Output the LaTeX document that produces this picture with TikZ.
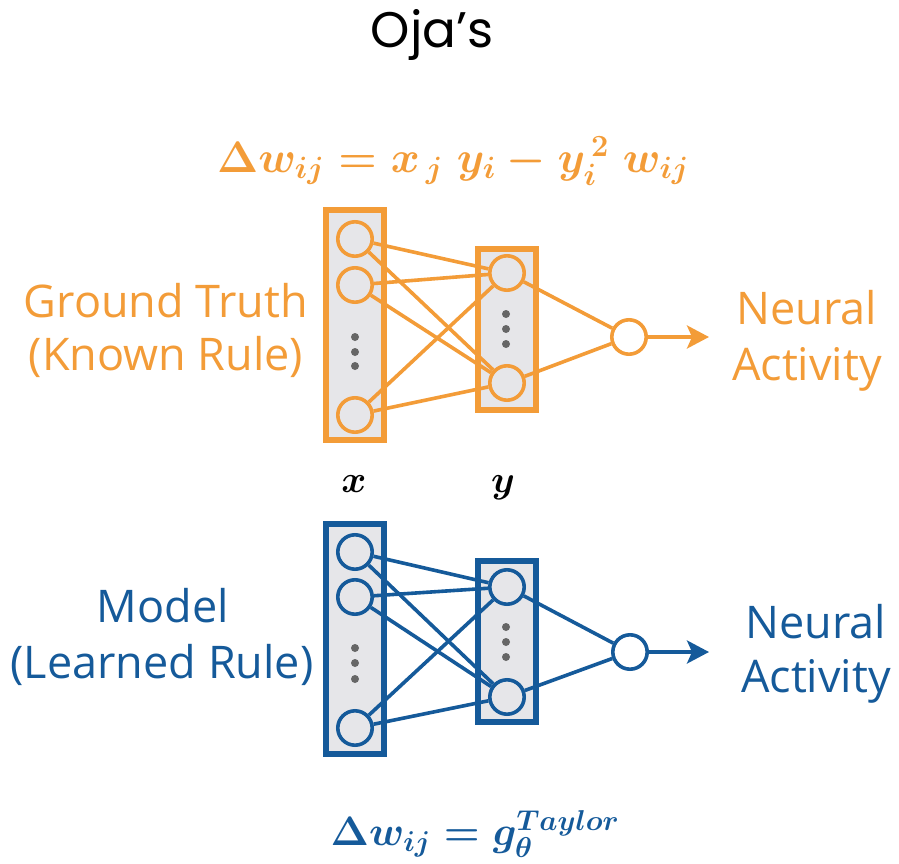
\RequirePackage{fix-cm}
\documentclass[tikz,border=0pt]{standalone}
\usepackage{fontspec}
\setmainfont{Open Sans}
\newfontfamily\titlefont{Poppins}
\usetikzlibrary{arrows.meta}
\definecolor{org}{HTML}{F39C38}
\definecolor{blu}{HTML}{155A9A}
\definecolor{boxfill}{HTML}{E6E6E9}
\definecolor{dotc}{HTML}{666666}
\newcommand{\eqfontA}{\fontsize{44}{50}\selectfont\boldmath}
\newcommand{\eqfontB}{\fontsize{41}{48}\selectfont\boldmath}
\newcommand{\eqfontC}{\fontsize{38}{44}\selectfont\boldmath}
\tikzset{
  neuron/.style={circle, draw=#1, line width=3.6pt, fill=boxfill, minimum size=34.4pt, inner sep=0pt},
  outneuron/.style={circle, draw=#1, line width=3.6pt, fill=white, minimum size=34.4pt, inner sep=0pt},
  conn/.style={draw=#1, line width=3.6pt},
  dotn/.style={circle, fill=dotc, minimum size=8pt, inner sep=0pt},
  lbl/.style={text=#1, anchor=base, inner sep=0pt, font=\fontsize{45}{54}\selectfont},
  arr/.style={draw=#1, line width=3.6pt, -{Stealth[length=22pt,width=23pt,inset=5pt]}},
  eqn/.style={text=#1, anchor=base, inner sep=0pt},
  bigbox/.style={draw=#1, line width=6pt, fill=boxfill, minimum width=58pt, minimum height=230pt, inner sep=0pt},
  smallbox/.style={draw=#1, line width=6pt, fill=boxfill, minimum width=58pt, minimum height=161pt, inner sep=0pt},
}
\begin{document}
\begin{tikzpicture}[x=1pt,y=-1pt]
\useasboundingbox (0,0) rectangle (899,864);
\node[anchor=base, inner sep=0pt, font=\titlefont\fontsize{50}{56}\selectfont] (title) at (432,48) {Oja’s};

% ---------- top (orange) ----------
\node[eqn=org, font=\eqfontA] (eqtop) at (453,172) {$\Delta w_{ij} = x_{\,j} \; y_i - y_i^{\,2} \; w_{ij}$};
\node[bigbox=org] (tL) at (355,325) {};
\node[smallbox=org] (tR) at (507,329.5) {};
\node[neuron=org] (t1) at (355,239) {};
\node[neuron=org] (t2) at (355,285) {};
\node[neuron=org] (t3) at (355,415) {};
\node[dotn] (td1) at (355,337) {};
\node[dotn] (td2) at (355,352) {};
\node[dotn] (td3) at (355,366) {};
\node[neuron=org] (t4) at (507,273) {};
\node[neuron=org] (t5) at (507,383) {};
\node[dotn] (td4) at (506,314) {};
\node[dotn] (td5) at (506,329) {};
\node[dotn] (td6) at (506,344) {};
\node[outneuron=org] (to) at (629,337) {};
\coordinate (tend) at (709,337);
\foreach \a in {t1,t2,t3}{\foreach \b in {t4,t5}{\draw[conn=org] (\a) -- (\b);}}
\draw[conn=org] (t4) -- (to);
\draw[conn=org] (t5) -- (to);
\draw[arr=org] (to) -- (tend);
\node[lbl=org] (tlab1) at (166,317) {Ground Truth};
\node[lbl=org] (tlab2) at (166,370) {(Known Rule)};
\node[lbl=org] (tact1) at (807,324) {Neural};
\node[lbl=org] (tact2) at (807,380) {Activity};

% ---------- labels x, y ----------
\node[eqn=black, font=\eqfontC] (xlab) at (354,492) {$x$};
\node[eqn=black, font=\eqfontC] (ylab) at (503,492) {$y$};

% ---------- bottom (blue) ----------
\node[bigbox=blu] (bL) at (355,639) {};
\node[smallbox=blu] (bR) at (507,641.5) {};
\node[neuron=blu] (b1) at (355,552) {};
\node[neuron=blu] (b2) at (355,597) {};
\node[neuron=blu] (b3) at (355,728) {};
\node[dotn] (bd1) at (355,648) {};
\node[dotn] (bd2) at (355,663) {};
\node[dotn] (bd3) at (355,679) {};
\node[neuron=blu] (b4) at (507,587) {};
\node[neuron=blu] (b5) at (507,697) {};
\node[dotn] (bd4) at (506,627) {};
\node[dotn] (bd5) at (506,642) {};
\node[dotn] (bd6) at (506,657) {};
\node[outneuron=blu] (bo) at (630,652) {};
\coordinate (bend) at (709,652);
\foreach \a in {b1,b2,b3}{\foreach \b in {b4,b5}{\draw[conn=blu] (\a) -- (\b);}}
\draw[conn=blu] (b4) -- (bo);
\draw[conn=blu] (b5) -- (bo);
\draw[arr=blu] (bo) -- (bend);
\node[lbl=blu] (blab1) at (163,622) {Model};
\node[lbl=blu] (blab2) at (162,678) {(Learned Rule)};
\node[lbl=blu] (bact1) at (816,638) {Neural};
\node[lbl=blu] (bact2) at (816,692) {Activity};

\node[eqn=blu, font=\eqfontB] (eqbot) at (475,845) {$\Delta w_{ij} = g_{\theta}^{Taylor}$};
\end{tikzpicture}
\end{document}
